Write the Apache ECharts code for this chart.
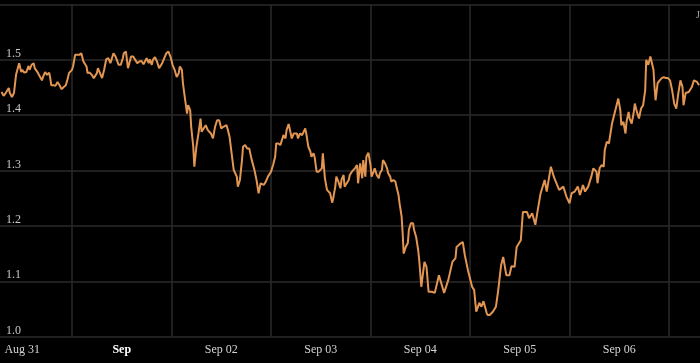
<!DOCTYPE html>
<html>
<head>
<meta charset="utf-8">
<script src="https://cdn.jsdelivr.net/npm/echarts@6/dist/echarts.min.js"></script>
<style>
  html, body { margin: 0; padding: 0; background: #000; }
  #chart { width: 700px; height: 363px; }
</style>
</head>
<body>
<div id="chart"></div>
<script>
// Hours elapsed since Aug 31 00:00
const hours = [
  7.0, 7.5, 8.0, 8.75, 9.0, 9.5, 10.0, 10.5, 10.75, 11.25, 11.75, 12.0, 12.5, 13.0, 13.25, 13.5, 13.75, 14.25, 14.75, 15.0,
  15.75, 16.0, 16.75, 17.0, 17.5, 18.0, 18.5, 18.75, 19.0, 19.5, 20.0, 20.5, 21.0, 21.5, 22.0, 22.5, 23.0, 23.25, 24.0, 24.25,
  24.75, 25.25, 25.75, 26.25, 26.75, 27.5, 27.75, 28.25, 28.75, 29.25, 29.5, 30.0, 30.25, 30.75, 31.25, 31.75, 32.25, 32.75, 33.25, 33.5,
  34.0, 34.5, 35.25, 35.75, 36.25, 36.5, 37.0, 37.5, 37.75, 38.25, 38.75, 39.25, 39.75, 40.25,
  40.5, 40.75, 41.25, 41.5, 42.0, 42.5, 42.75, 43.25, 43.5, 44.0, 44.5, 45.0, 45.75, 46.25, 46.75, 47.25, 47.75, 48.25, 48.75, 49.25,
  49.75, 50.0, 50.5, 50.75, 51.25, 51.75, 52.0, 52.5, 52.75, 53.25, 53.5, 54.0, 54.5, 55.0, 55.25, 55.75, 56.25, 56.75, 57.0, 57.5,
  58.0, 58.5, 59.0, 59.5, 60.0, 60.5, 61.25, 61.5, 62.0, 62.5, 63.0, 63.75, 64.0, 64.5, 65.0, 65.25, 65.75, 66.25, 66.75, 67.25,
  68.0, 68.5, 69.0, 69.5, 70.25, 70.75, 71.25, 72.0, 72.5, 73.0, 73.25, 73.75, 74.25,
  74.5, 75.0, 75.5, 75.75, 76.25, 76.5, 77.0, 77.5, 77.75, 78.25, 78.5, 79.0, 79.5, 79.75, 80.25, 80.5, 81.0, 81.5, 81.75, 82.25,
  82.5, 83.0, 83.5, 83.75, 84.25, 84.5, 85.0, 85.5, 85.75, 86.25, 86.75, 87.0, 87.5, 87.75, 88.25, 88.75, 89.0, 89.5, 89.75, 90.25,
  90.75, 91.0, 91.5, 91.75, 92.25, 92.75, 93.0, 93.5, 94.0, 94.25, 94.75, 95.0, 95.5, 96.0, 96.25, 96.75, 97.0, 97.5, 98.0, 98.25,
  98.75, 99.0, 99.5, 100.0, 100.25, 100.75, 101.0, 101.5, 102.0, 102.25, 102.75, 103.0, 103.5, 103.75, 104.0, 104.5, 105.0, 105.25, 105.75, 106.25,
  106.5, 107.0, 107.5, 107.75,
  108.25, 109.0, 109.5, 110.0, 110.75, 111.5, 112.5, 113.75, 114.75, 115.75, 116.5, 116.75, 117.5, 118.25, 118.75, 119.5, 120.5, 121.0, 121.5, 122.25,
  122.75, 123.25, 124.0, 124.25, 124.75, 125.5, 126.25, 126.75, 127.5, 128.0, 128.75, 129.5, 130.0, 130.75, 131.25, 132.25, 132.75, 133.75, 134.25, 135.0,
  135.75, 136.25, 137.0, 138.0, 138.5, 139.5, 140.25, 141.0, 141.5,
  141.75, 142.5, 143.25, 144.0, 144.5, 145.25, 146.0, 146.5, 147.25, 147.75, 148.5, 149.25, 149.75, 150.5, 150.75, 151.25, 151.75, 152.25, 152.5, 153.0,
  153.5, 154.25, 154.75, 155.25, 155.75, 156.25, 156.5, 157.0, 157.5, 157.75, 158.25, 158.5, 159.0, 159.5, 159.75, 160.25, 160.75, 161.25, 161.75, 162.25,
  162.5, 163.0, 163.5, 163.75, 164.25, 164.5, 164.75, 165.25, 165.75, 166.25, 166.75, 167.25, 167.75, 168.25, 168.75, 169.25, 169.75, 170.25, 170.75, 171.25,
  171.5, 172.0, 172.75, 173.0, 173.5, 174.0, 174.75, 175.25
];
const rates = [
  1.442, 1.435, 1.440, 1.449, 1.440, 1.433, 1.440, 1.473, 1.476, 1.494, 1.478, 1.482, 1.477, 1.478, 1.478, 1.489, 1.482, 1.491, 1.494, 1.485,
  1.477, 1.473, 1.463, 1.469, 1.478, 1.473, 1.477, 1.467, 1.454, 1.454, 1.453, 1.460, 1.454, 1.447, 1.451, 1.454, 1.467, 1.476, 1.482, 1.488,
  1.509, 1.509, 1.509, 1.512, 1.497, 1.488, 1.476, 1.477, 1.473, 1.467, 1.469, 1.476, 1.485, 1.476, 1.467, 1.482, 1.501, 1.503, 1.494, 1.500,
  1.512, 1.506, 1.491, 1.491, 1.503, 1.512, 1.515, 1.485, 1.482, 1.506, 1.506, 1.500, 1.494, 1.497,
  1.494, 1.498, 1.492, 1.494, 1.503, 1.494, 1.501, 1.491, 1.500, 1.505, 1.497, 1.485, 1.494, 1.503, 1.512, 1.515, 1.506, 1.491, 1.482, 1.469,
  1.476, 1.488, 1.482, 1.458, 1.430, 1.403, 1.418, 1.409, 1.379, 1.343, 1.307, 1.343, 1.367, 1.394, 1.370, 1.376, 1.382, 1.373, 1.376, 1.367,
  1.358, 1.379, 1.391, 1.391, 1.376, 1.379, 1.382, 1.376, 1.361, 1.331, 1.301, 1.289, 1.271, 1.283, 1.319, 1.343, 1.346, 1.340, 1.340, 1.322,
  1.301, 1.283, 1.259, 1.277, 1.274, 1.280, 1.289, 1.298, 1.310, 1.325, 1.349, 1.349, 1.346,
  1.352, 1.364, 1.358, 1.373, 1.384, 1.376, 1.358, 1.367, 1.370, 1.367, 1.358, 1.367, 1.364, 1.361, 1.376, 1.367, 1.343, 1.334, 1.325, 1.331,
  1.325, 1.298, 1.298, 1.301, 1.304, 1.331, 1.286, 1.265, 1.268, 1.259, 1.242, 1.250, 1.271, 1.289, 1.280, 1.268, 1.283, 1.292, 1.271, 1.277,
  1.283, 1.292, 1.298, 1.301, 1.304, 1.310, 1.277, 1.313, 1.286, 1.319, 1.289, 1.325, 1.332, 1.310, 1.289, 1.298, 1.304, 1.292, 1.286, 1.295,
  1.301, 1.319, 1.313, 1.304, 1.295, 1.289, 1.280, 1.283, 1.280, 1.271, 1.256, 1.241, 1.217, 1.187, 1.150, 1.162, 1.169, 1.193, 1.205, 1.205,
  1.193, 1.180, 1.156, 1.138,
  1.090, 1.135, 1.126, 1.081, 1.081, 1.079, 1.111, 1.079, 1.102, 1.135, 1.142, 1.162, 1.167, 1.171, 1.147, 1.120, 1.090, 1.084, 1.045, 1.061,
  1.054, 1.064, 1.043, 1.039, 1.039, 1.045, 1.054, 1.081, 1.129, 1.144, 1.111, 1.111, 1.127, 1.126, 1.162, 1.174, 1.225, 1.225, 1.214, 1.223,
  1.202, 1.225, 1.258, 1.283, 1.262, 1.307, 1.288, 1.274, 1.265,
  1.262, 1.271, 1.253, 1.241, 1.259, 1.262, 1.271, 1.256, 1.274, 1.262, 1.271, 1.289, 1.304, 1.298, 1.277, 1.304, 1.310, 1.307, 1.337, 1.352,
  1.349, 1.385, 1.400, 1.415, 1.430, 1.409, 1.382, 1.388, 1.367, 1.388, 1.406, 1.394, 1.385, 1.406, 1.421, 1.406, 1.394, 1.412, 1.418, 1.445,
  1.500, 1.491, 1.506, 1.509, 1.482, 1.451, 1.427, 1.458, 1.463, 1.467, 1.469, 1.467, 1.467, 1.463, 1.445, 1.421, 1.412, 1.440, 1.463, 1.451,
  1.418, 1.440, 1.442, 1.440, 1.451, 1.463, 1.460, 1.454
];
// Day boundaries (midnight) and day-centre label positions, in hours
const dayBoundaries = [24, 48, 72, 96, 120, 144, 168];
const labelHours = [12, 36, 60, 84, 108, 132, 156];
const tickLabels = ['Aug 31', 'Sep', 'Sep 02', 'Sep 03', 'Sep 04', 'Sep 05', 'Sep 06'];
const yTicks = [1.0, 1.1, 1.2, 1.3, 1.4, 1.5, 1.6];

const chart = echarts.init(document.getElementById('chart'), null, { renderer: 'canvas' });
const seriesData = hours.map((h, i) => [h, rates[i]]);
const font = '"Liberation Serif", "DejaVu Serif", serif';

chart.setOption({
  backgroundColor: '#000000',
  animation: false,
  grid: { left: 0, right: 0, top: 4.5, bottom: 26.4, containLabel: false },
  xAxis: {
    type: 'value',
    min: 6.63,
    max: 175.47,
    axisLine: { show: false },
    axisTick: { show: false, customValues: dayBoundaries },
    splitLine: { show: true, lineStyle: { color: '#2a2a2a', width: 1.5 } },
    axisLabel: {
      customValues: labelHours,
      margin: 7,
      fontFamily: font,
      fontSize: 12,
      color: '#d4d4d4',
      formatter: function (v) {
        const idx = labelHours.indexOf(Math.round(v));
        const t = tickLabels[idx] || '';
        return t === 'Sep' ? '{b|' + t + '}' : t;
      },
      rich: { b: { fontFamily: font, fontSize: 12, fontWeight: 'bold', color: '#ffffff' } }
    }
  },
  yAxis: {
    type: 'value',
    min: yTicks[0],
    max: yTicks[yTicks.length - 1],
    interval: 0.1,
    axisLine: { show: false },
    axisTick: { show: false },
    splitLine: { show: true, lineStyle: { color: '#2a2a2a', width: 1.5 } },
    axisLabel: {
      inside: true,
      margin: 6,
      verticalAlign: 'bottom',
      showMaxLabel: false,
      fontFamily: font,
      fontSize: 12,
      color: '#c8c8c8',
      formatter: v => v.toFixed(1)
    }
  },
  graphic: [{
    type: 'text',
    right: 0,
    top: 10,
    style: { text: 'J', fontFamily: font, fontSize: 11, fill: '#9a9a9a' }
  }],
  series: [{
    type: 'line',
    data: seriesData,
    showSymbol: false,
    smooth: false,
    lineStyle: { color: '#e39552', width: 2 },
    z: 5
  }]
});
</script>
</body>
</html>
